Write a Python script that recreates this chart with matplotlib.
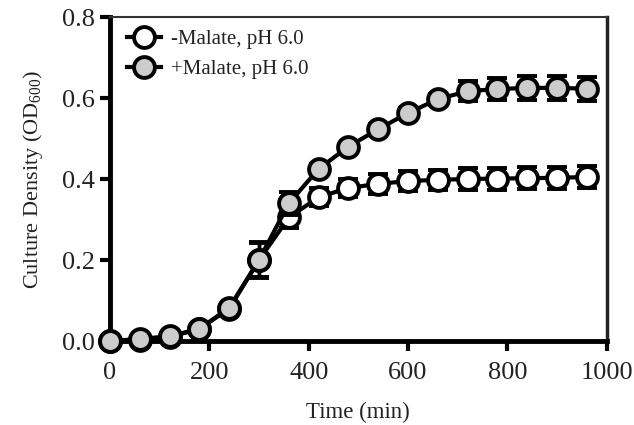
import matplotlib
matplotlib.use("Agg")
import matplotlib.pyplot as plt
from matplotlib.lines import Line2D

# time points (min)
TIME = [0, 60, 120, 180, 240, 300, 360, 420, 480, 540, 600, 660, 720, 780, 840, 900, 960]

# -Malate, pH 6.0
NO_MAL = [0.0, 0.003, 0.010, 0.030, 0.080, 0.200, 0.305, 0.355, 0.378, 0.388, 0.395,
          0.398, 0.400, 0.401, 0.402, 0.403, 0.405]
NO_MAL_ERR = [0.003, 0.003, 0.004, 0.005, 0.008, 0.042, 0.025, 0.022, 0.022, 0.024, 0.024,
              0.025, 0.026, 0.027, 0.027, 0.027, 0.027]

# +Malate, pH 6.0
MAL = [0.0, 0.005, 0.012, 0.030, 0.082, 0.200, 0.340, 0.425, 0.480, 0.523, 0.563,
       0.597, 0.617, 0.622, 0.625, 0.625, 0.623]
MAL_ERR = [0.003, 0.003, 0.004, 0.005, 0.008, 0.045, 0.028, 0.012, 0.010, 0.012, 0.012,
           0.014, 0.024, 0.028, 0.030, 0.030, 0.030]

LABELS = ["-Malate, pH 6.0", "+Malate, pH 6.0"]
FILLS = ["white", "#cccccc"]

plt.rcParams["font.family"] = ["Liberation Serif", "DejaVu Serif"]
plt.rcParams["mathtext.fontset"] = "custom"
plt.rcParams["mathtext.rm"] = "Liberation Serif"
plt.rcParams["text.color"] = "#222222"
plt.rcParams["axes.labelcolor"] = "#222222"

fig = plt.figure(figsize=(6.34, 4.25), dpi=100)
ax = fig.add_axes([0.1735, 0.1976, 0.7835, 0.7624])

style = dict(color="black", lw=3, marker="o", markersize=15, mew=2.8,
             capsize=7, capthick=3, elinewidth=2.5, clip_on=False)
ax.errorbar(TIME, NO_MAL, yerr=NO_MAL_ERR, mfc=FILLS[0], mec="black", zorder=3, **style)
ax.errorbar(TIME, MAL, yerr=MAL_ERR, mfc=FILLS[1], mec="black", zorder=4, **style)

ax.set_xlim(0, 1000)
ax.set_ylim(0, 0.8)
ax.set_xticks([0, 200, 400, 600, 800, 1000])
ax.set_yticks([0.0, 0.2, 0.4, 0.6, 0.8])
ax.set_yticklabels(["0.0", "0.2", "0.4", "0.6", "0.8"])
ax.tick_params(direction="out", length=7, width=3, labelsize=19, labelcolor="#222222")
ax.tick_params(axis="x", pad=8)
ax.tick_params(axis="y", pad=4)
for side in ["left", "bottom"]:
    ax.spines[side].set_linewidth(3.5)
ax.spines["right"].set_linewidth(2.5)
ax.spines["right"].set_color("#222222")
ax.spines["top"].set_linewidth(1.5)
ax.spines["top"].set_color("#333333")

ax.set_xlabel("Time (min)", fontsize=16.5, labelpad=13)
ax.set_ylabel(r"Culture Density (OD$_{600}$)", fontsize=16, labelpad=12)

handles = [Line2D([], [], color="black", lw=3, marker="o", markersize=15, mew=2.8,
                  mfc=f, mec="black") for f in FILLS]
ax.legend(handles, LABELS, loc="upper left", frameon=False, fontsize=15, handlelength=1.6,
          handletextpad=0.5, borderaxespad=0.2, labelspacing=0.5,
          bbox_to_anchor=(0.01, 1.0))

fig.savefig("out.png", dpi=100)
